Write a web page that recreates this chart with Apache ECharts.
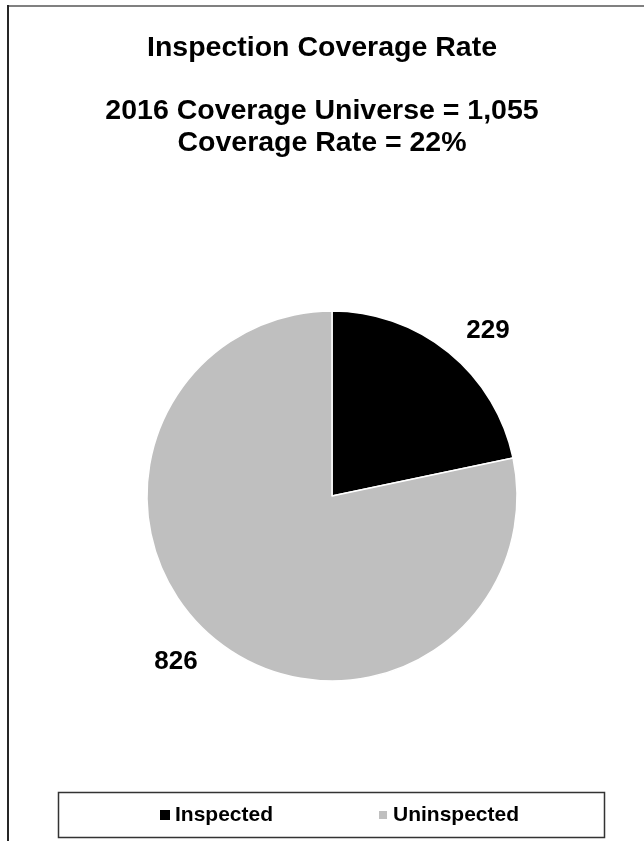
<!DOCTYPE html>
<html>
<head>
<meta charset="utf-8">
<script src="https://cdn.jsdelivr.net/npm/echarts@6/dist/echarts.min.js"></script>
<style>
html,body{margin:0;padding:0;background:#fff;}
#chart{width:644px;height:841px;}
</style>
</head>
<body>
<div id="chart"></div>
<script>
var categories = ['Inspected', 'Uninspected'];
var values = [229, 826];
var colors = ['#000000', '#BFBFBF'];
var titleText = 'Inspection Coverage Rate';
var subtitleLines = ['2016 Coverage Universe = 1,055', 'Coverage Rate = 22%'];

var FONT = '"Liberation Sans", Arial, sans-serif';
var chart = echarts.init(document.getElementById('chart'), null, {renderer: 'canvas'});

var pieData = categories.map(function (c, i) {
  return {name: c, value: values[i], itemStyle: {color: colors[i]}};
});

chart.setOption({
  animation: false,
  backgroundColor: '#ffffff',
  title: [
    {
      text: titleText,
      left: 'center',
      top: 27,
      textStyle: {fontFamily: FONT, fontWeight: 'bold', fontSize: 28.5, color: '#000', lineHeight: 32}
    },
    {
      text: subtitleLines.join('\n'),
      left: 'center',
      top: 90,
      textStyle: {fontFamily: FONT, fontWeight: 'bold', fontSize: 28.5, color: '#000', lineHeight: 32, align: 'center'}
    }
  ],
  legend: {
    data: [
      {name: categories[0]},
      {name: categories[1], itemStyle: {borderColor: '#ffffff', borderWidth: 4}}
    ],
    left: 158,
    top: 803,
    padding: 0,
    itemGap: 102,
    itemWidth: 12,
    itemHeight: 12,
    icon: 'rect',
    selectedMode: false,
    textStyle: {fontFamily: FONT, fontWeight: 'bold', fontSize: 21, color: '#000', lineHeight: 24, padding: [0, 0, 0, -1]}
  },
  graphic: [
    {type: 'line', shape: {x1: 8, y1: 6, x2: 644, y2: 6}, style: {stroke: '#808080', lineWidth: 2}, silent: true},
    {type: 'line', shape: {x1: 8, y1: 5, x2: 8, y2: 841}, style: {stroke: '#262626', lineWidth: 2}, silent: true},
    {type: 'rect', shape: {x: 58.5, y: 792.5, width: 546, height: 45}, style: {fill: 'none', stroke: '#333333', lineWidth: 1.5}, silent: true}
  ],
  series: [{
    type: 'pie',
    center: [332, 496],
    radius: [0, 185],
    startAngle: 90,
    clockwise: true,
    avoidLabelOverlap: false,
    silent: true,
    itemStyle: {borderColor: '#ffffff', borderWidth: 1.5},
    label: {
      show: true,
      position: 'outside',
      formatter: '{c}',
      fontFamily: FONT,
      fontWeight: 'bold',
      fontSize: 26,
      color: '#000',
      distanceToLabelLine: 0
    },
    labelLine: {show: false, length: 28, length2: 0},
    data: pieData
  }]
});
</script>
</body>
</html>
